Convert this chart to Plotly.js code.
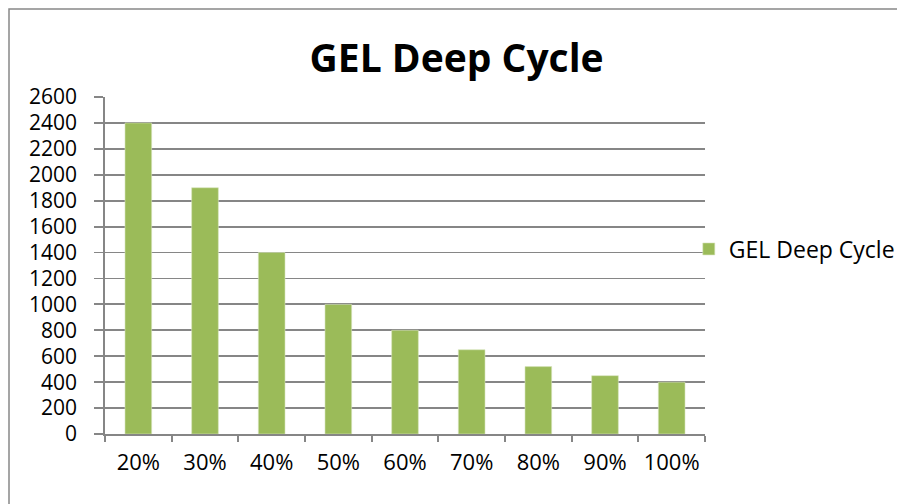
<!DOCTYPE html>
<html>
<head>
<meta charset="utf-8">
<script src="https://cdn.plot.ly/plotly-3.0.1.min.js"></script>
<style>html,body{margin:0;padding:0;background:#fff;} #chart{width:897px;height:504px;}</style>
</head>
<body>
<div id="chart"></div>
<script>
const categories = ["20%", "30%", "40%", "50%", "60%", "70%", "80%", "90%", "100%"];
const cycles = [2400, 1900, 1400, 1000, 800, 650, 520, 450, 400];
const seriesName = "GEL Deep Cycle";
const chartTitle = "GEL Deep Cycle";

const gridColor = "#868686";
const font = "'Open Sans', 'Liberation Sans', sans-serif";

const trace = {
  type: "bar",
  x: categories,
  y: cycles,
  name: seriesName,
  marker: { color: "#9BBB59", line: { color: "#D7E4BD", width: 0.6 } },
  showlegend: true
};

const layout = {
  width: 897,
  height: 504,
  margin: { l: 105, r: 192, t: 97, b: 70, autoexpand: false },
  paper_bgcolor: "#ffffff",
  plot_bgcolor: "#ffffff",
  font: { family: font, color: "#000000", size: 21 },
  bargap: 0.6,
  title: {
    text: "<b>" + chartTitle + "</b>",
    font: { family: font, size: 39, color: "#000000" },
    xref: "paper", x: 0.586, xanchor: "center",
    yref: "container", y: 0.885, yanchor: "middle"
  },
  xaxis: {
    type: "category",
    showline: true, linecolor: gridColor, linewidth: 1.8,
    ticks: "outside", ticklen: 6, tickcolor: gridColor, tickwidth: 1.8,
    tickson: "boundaries",
    showgrid: false,
    tickfont: { family: font, size: 22, color: "#000000" },
    ticklabelstandoff: 8,
    automargin: false
  },
  yaxis: {
    range: [0, 2600], dtick: 200, tick0: 0,
    showline: true, linecolor: gridColor, linewidth: 1.8,
    ticks: "outside", ticklen: 9, tickcolor: gridColor, tickwidth: 1.8,
    showgrid: true, gridcolor: gridColor, gridwidth: 1.8,
    zeroline: false,
    tickfont: { family: font, size: 21, color: "#000000" },
    ticklabelstandoff: 13,
    automargin: false
  },
  legend: {
    x: 0.973, xanchor: "left", y: 0.549, yanchor: "middle",
    font: { family: font, size: 23, color: "#000000" },
    bgcolor: "rgba(0,0,0,0)", borderwidth: 0
  },
  shapes: [{
    type: "rect", xref: "paper", yref: "paper",
    x0: -0.16, x1: 1.4, y0: -0.3, y1: 1.2611,
    line: { color: "#888888", width: 1.5 }, fillcolor: "rgba(0,0,0,0)", layer: "below"
  }]
};

Plotly.newPlot("chart", [trace], layout, { displayModeBar: false, staticPlot: true });
</script>
</body>
</html>
